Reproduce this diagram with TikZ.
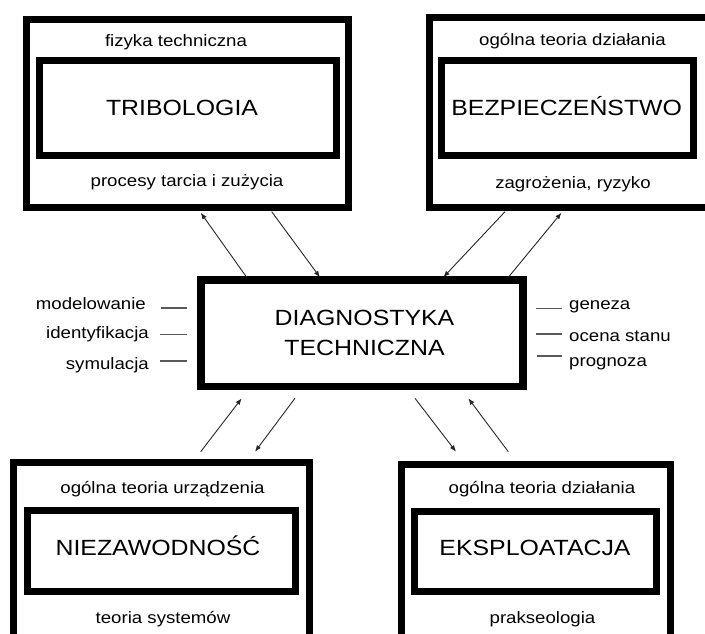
\documentclass[tikz,border=0pt]{standalone}
\usepackage{fontspec}
\setmainfont{Liberation Sans}[FakeStretch=1.13]
\usetikzlibrary{arrows.meta}
\begin{document}
\begin{tikzpicture}[x=1pt,y=-1pt,
  bx/.style={draw=black, line width=7pt, inner sep=0pt, outer sep=0pt},
  small/.style={font=\fontsize{16.5}{20}\selectfont, inner sep=0pt, anchor=base},
  big/.style={font=\fontsize{22}{28}\selectfont, inner sep=0pt, anchor=base},
  arr/.style={-{Latex[length=6.5pt,width=5pt]}, line width=0.9pt, draw=black!85},
  tick/.style={line width=1.6pt, draw=black!65}]
\useasboundingbox (0,0) rectangle (705,634);
\clip (0,0) rectangle (705,634);
% boxes
\node[bx, minimum width=322pt, minimum height=188pt] (tlo) at (187.5,113.5) {};
\node[bx, minimum width=296.5pt, minimum height=94.5pt] (tli) at (187.75,107.75) {};
\node[bx, minimum width=283pt, minimum height=190pt] (tro) at (570.5,112.5) {};
\node[bx, minimum width=252pt, minimum height=94.5pt] (tri) at (567.5,108.25) {};
\node[bx, line width=7.5pt, minimum width=322pt, minimum height=106.5pt] (dg) at (362,333.25) {};
\node[bx, minimum width=295.5pt, minimum height=197.5pt] (blo) at (161.25,561.25) {};
\node[bx, minimum width=268.5pt, minimum height=81pt] (bli) at (161.25,551) {};
\node[bx, minimum width=269pt, minimum height=195.5pt] (bro) at (536,562.25) {};
\node[bx, minimum width=242pt, minimum height=80.5pt] (bri) at (535.5,551.25) {};
% texts
\node[small] (tl1) at (176,47) {fizyka techniczna};
\node[big] (tl2) at (182,115) {TRIBOLOGIA};
\node[small] (tl3) at (187,186.7) {procesy tarcia i zużycia};
\node[small] (tr1) at (572.5,46) {ogólna teoria działania};
\node[big] (tr2) at (566.7,115) {BEZPIECZEŃSTWO};
\node[small] (tr3) at (573,188) {zagrożenia, ryzyko};
\node[big] (dg1) at (364.5,325.7) {DIAGNOSTYKA};
\node[big] (dg2) at (364.5,355) {TECHNICZNA};
\node[small] (bl1) at (162.5,493) {ogólna teoria urządzenia};
\node[big] (bl2) at (158,555) {NIEZAWODNOŚĆ};
\node[small] (bl3) at (163,623) {teoria systemów};
\node[small] (br1) at (542,493) {ogólna teoria działania};
\node[big] (br2) at (535,555) {EKSPLOATACJA};
\node[small] (br3) at (542.5,623) {prakseologia};
% side labels
\node[small, anchor=base east] (l1) at (146,309) {modelowanie};
\node[small, anchor=base east] (l2) at (149,338) {identyfikacja};
\node[small, anchor=base east] (l3) at (149,369) {symulacja};
\node[small, anchor=base west] (r1) at (569,309) {geneza};
\node[small, anchor=base west] (r2) at (569,341) {ocena stanu};
\node[small, anchor=base west] (r3) at (569,366) {prognoza};
% side ticks
\coordinate (l1a) at (161,307.7); \coordinate (l1b) at (187,307.7);
\coordinate (l2a) at (160,334.3); \coordinate (l2b) at (187,334.3);
\coordinate (l3a) at (160,361);   \coordinate (l3b) at (187,361);
\coordinate (r1a) at (536,308.3); \coordinate (r1b) at (562,308.3);
\coordinate (r2a) at (536,334);   \coordinate (r2b) at (562,334);
\coordinate (r3a) at (537,356);   \coordinate (r3b) at (562,356);
\draw[tick] (l1a) -- (l1b);
\draw[tick] (l2a) -- (l2b);
\draw[tick] (l3a) -- (l3b);
\draw[tick] (r1a) -- (r1b);
\draw[tick] (r2a) -- (r2b);
\draw[tick] (r3a) -- (r3b);
% arrows
\coordinate (a1s) at (246.7,277.3); \coordinate (a1e) at (200.7,212.7);
\coordinate (a2s) at (271.7,211.7); \coordinate (a2e) at (320,277.3);
\coordinate (a3s) at (505,211.7);   \coordinate (a3e) at (443.3,277.3);
\coordinate (a4s) at (508.3,277.3); \coordinate (a4e) at (561.5,212.7);
\coordinate (a5s) at (200.7,451.7); \coordinate (a5e) at (241.7,398.3);
\coordinate (a6s) at (295,398.3);   \coordinate (a6e) at (255,451.7);
\coordinate (a7s) at (415,398.3);   \coordinate (a7e) at (456,451.7);
\coordinate (a8s) at (508.3,451.7); \coordinate (a8e) at (468.3,398.3);
\draw[arr] (a1s) -- (a1e);
\draw[arr] (a2s) -- (a2e);
\draw[arr] (a3s) -- (a3e);
\draw[arr] (a4s) -- (a4e);
\draw[arr] (a5s) -- (a5e);
\draw[arr] (a6s) -- (a6e);
\draw[arr] (a7s) -- (a7e);
\draw[arr] (a8s) -- (a8e);
\end{tikzpicture}
\end{document}
